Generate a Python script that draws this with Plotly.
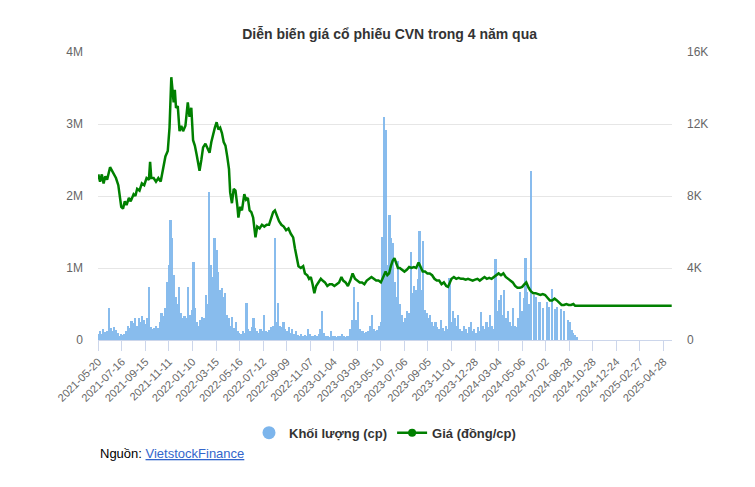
import plotly.graph_objects as go

# ---------------- data ----------------
tick_dates = ["2021-05-20", "2021-07-16", "2021-09-15", "2021-11-11", "2022-01-10",
              "2022-03-15", "2022-05-16", "2022-07-12", "2022-09-09", "2022-11-07",
              "2023-01-04", "2023-03-09", "2023-05-10", "2023-07-06", "2023-09-05",
              "2023-11-01", "2023-12-28", "2024-03-04", "2024-05-06", "2024-07-02",
              "2024-08-28", "2024-10-28", "2024-12-24", "2025-02-27", "2025-04-28"]
TICK_EVERY = 40        # trading sessions between date labels
N_SESSIONS = 975       # sessions shown on the axis
VOL_STEP = 3           # sessions per volume sample

# volume (thousand shares), one value per VOL_STEP sessions
volume_k = [
    90, 130, 80, 150, 110, 120, 450, 160, 120, 180,
    140, 100, 60, 90, 70, 80, 120, 200, 160, 260,
    230, 300, 200, 310, 250, 340, 280, 220, 300, 730,
    180, 150, 170, 200, 160, 250, 380, 330, 450, 810,
    1040, 1670, 1420, 900, 600, 500, 740, 380, 300, 330,
    300, 740, 350, 420, 1090, 450, 250, 200, 280, 320,
    300, 620, 500, 2060, 1040, 880, 1420, 1250, 950, 700,
    720, 600, 650, 350, 300, 200, 320, 170, 250, 130,
    100, 90, 120, 100, 510, 150, 130, 180, 300, 160,
    120, 100, 150, 130, 350, 120, 110, 140, 180, 200,
    1420, 250, 510, 200, 180, 250, 150, 120, 180, 100,
    150, 90, 120, 70, 60, 80, 50, 70, 60, 150,
    80, 60, 50, 70, 60, 90, 150, 400, 100, 60,
    50, 40, 120, 60, 50, 40, 60, 50, 80, 60,
    40, 50, 60, 150, 280, 740, 280, 530, 150, 120,
    120, 100, 110, 130, 200, 350, 150, 120, 140, 200,
    250, 1430, 3100, 2920, 1040, 1740, 1420, 1350, 800, 600,
    1100, 500, 350, 250, 300, 400, 380, 1220, 650, 750,
    700, 850, 1510, 700, 1370, 420, 380, 300, 350, 250,
    200, 250, 180, 150, 280, 160, 130, 200, 150, 860,
    250, 400, 300, 200, 350, 150, 120, 200, 150, 100,
    180, 250, 120, 150, 100, 180, 130, 390, 200, 150,
    250, 180, 350, 200, 150, 1120, 400, 550, 625, 350,
    700, 300, 400, 250, 200, 450, 200, 180, 300, 670,
    400, 580, 1140, 670, 500, 2350, 0, 625, 600, 0,
    530, 0, 450, 0, 530, 460, 0, 710, 0, 430,
    460, 0, 430, 0, 400, 0, 280, 250, 140, 100,
    70, 40,
]

# closing price (thousand VND) at given session numbers
price_session = [
    0, 3, 6, 9, 12, 15, 20, 25, 30, 34,
    37, 39, 42, 45, 48, 52, 55, 60, 63, 66,
    70, 74, 78, 82, 86, 88, 90, 94, 98, 102,
    106, 110, 114, 118, 121, 124, 126, 128, 130, 132,
    135, 138, 141, 144, 148, 152, 155, 158, 161, 164,
    167, 170, 172, 175, 178, 182, 186, 189, 192, 195,
    198, 201, 204, 207, 210, 213, 216, 219, 222, 224,
    227, 230, 233, 236, 238, 241, 244, 248, 251, 254,
    257, 260, 263, 267, 270, 274, 278, 282, 286, 290,
    294, 297, 300, 303, 307, 311, 315, 319, 323, 327,
    331, 334, 337, 340, 344, 348, 351, 355, 358, 361,
    364, 367, 370, 374, 378, 381, 385, 389, 393, 397,
    401, 405, 409, 413, 416, 420, 424, 428, 432, 436,
    440, 444, 448, 452, 456, 460, 464, 468, 472, 476,
    480, 484, 488, 491, 494, 497, 500, 503, 506, 509,
    512, 516, 520, 524, 528, 532, 536, 540, 544, 547,
    551, 555, 559, 563, 567, 571, 575, 579, 583, 587,
    591, 594, 597, 600, 604, 608, 612, 616, 620, 624,
    628, 632, 636, 640, 644, 648, 652, 656, 660, 664,
    668, 672, 676, 680, 684, 688, 692, 696, 700, 704,
    708, 712, 716, 720, 724, 727, 731, 735, 739, 743,
    747, 751, 755, 759, 763, 767, 771, 775, 779, 783,
    787, 791, 795, 799, 803, 807, 810, 974,
]
price_k = [
    9.2, 8.8, 9.2, 8.7, 9.1, 8.9, 9.6, 9.3, 9.0, 8.6,
    8.0, 7.4, 7.3, 7.7, 7.5, 7.9, 7.7, 8.1, 8.0, 8.4,
    8.3, 8.7, 8.6, 9.0, 8.9, 9.9, 9.0, 9.0, 8.8, 9.0,
    8.8, 9.6, 10.2, 10.5, 11.8, 14.6, 13.8, 13.2, 13.9, 12.9,
    13.0, 11.6, 11.9, 11.6, 11.9, 13.2, 12.4, 12.9, 11.1, 10.8,
    10.3, 9.8, 9.4, 10.0, 10.7, 10.9, 10.6, 10.4, 11.0, 11.5,
    11.8, 12.1, 11.7, 11.8, 11.5, 11.0, 10.8, 10.2, 9.5, 8.2,
    7.6, 8.4, 8.3, 7.5, 6.8, 7.4, 7.2, 8.1, 7.8, 7.9,
    7.2, 7.1, 6.8, 5.7, 6.3, 6.2, 6.4, 6.3, 6.4, 6.4,
    6.8, 7.1, 7.2, 6.9, 6.6, 6.4, 6.3, 6.1, 6.2, 5.9,
    5.7, 5.1, 4.5, 4.1, 4.0, 4.1, 3.7, 3.6, 3.4, 3.5,
    3.1, 2.6, 3.0, 3.2, 3.4, 3.3, 3.2, 3.0, 3.1, 3.1,
    3.0, 3.1, 3.2, 3.5, 3.3, 3.2, 3.0, 3.3, 3.7, 3.4,
    3.3, 3.2, 3.2, 3.1, 3.3, 3.4, 3.5, 3.4, 3.3, 3.3,
    3.2, 3.5, 3.8, 3.6, 3.7, 4.1, 4.4, 4.55, 4.3, 4.0,
    4.0, 3.9, 3.8, 3.9, 4.05, 4.0, 4.05, 4.0, 4.3, 4.1,
    3.8, 3.8, 3.7, 3.7, 3.6, 3.4, 3.3, 3.3, 3.1, 3.2,
    3.0, 2.95, 3.2, 3.4, 3.5, 3.4, 3.45, 3.4, 3.4, 3.35,
    3.4, 3.35, 3.3, 3.35, 3.4, 3.3, 3.4, 3.5, 3.4, 3.45,
    3.4, 3.5, 3.6, 3.7, 3.6, 3.7, 3.5, 3.4, 3.3, 3.2,
    3.0, 2.9, 2.9, 2.95, 3.1, 3.2, 2.9, 2.7, 2.6, 2.6,
    2.55, 2.5, 2.55, 2.5, 2.35, 2.2, 2.2, 2.3, 2.2, 2.1,
    1.95, 1.95, 2.0, 1.95, 1.95, 2.0, 1.9, 1.9,
]

vol_ticks = [0, 1, 2, 3, 4]            # millions
vol_tick_text = ["0", "1M", "2M", "3M", "4M"]
price_ticks = [0, 4, 8, 12, 16]        # thousands
price_tick_text = ["0", "4K", "8K", "12K", "16K"]

title = "Diễn biến giá cổ phiếu CVN trong 4 năm qua"
vol_name = "Khối lượng (cp)"
price_name = "Giá (đồng/cp)"

# ---------------- figure ----------------
FONT = "Liberation Sans, Arial, Helvetica, sans-serif"
VOL_COLOR = "#7cb5ec"
PRICE_COLOR = "#008000"

vol_x = [i * VOL_STEP for i in range(len(volume_k))]

fig = go.Figure()
fig.add_trace(go.Bar(
    x=vol_x, y=[v * 1000 for v in volume_k], width=VOL_STEP,
    marker=dict(color=VOL_COLOR, line=dict(width=0)),
    name=vol_name, showlegend=False, yaxis="y", opacity=0.9,
))
fig.add_trace(go.Scatter(
    x=price_session, y=[p * 1000 for p in price_k], mode="lines",
    line=dict(color=PRICE_COLOR, width=2.5),
    name=price_name, showlegend=False, yaxis="y2",
))
# legend entries (symbols as in the original legend)
fig.add_trace(go.Scatter(
    x=[None], y=[None], mode="markers", name="<b>" + vol_name + "</b>",
    marker=dict(symbol="circle", size=13, color=VOL_COLOR),
))
fig.add_trace(go.Scatter(
    x=[None], y=[None], mode="lines+markers", name="<b>" + price_name + "</b>", yaxis="y2",
    line=dict(color=PRICE_COLOR, width=2.5),
    marker=dict(symbol="circle", size=8, color=PRICE_COLOR),
))

fig.update_layout(
    width=755, height=487,
    margin=dict(l=98, r=83, t=52, b=147),
    paper_bgcolor="white", plot_bgcolor="white",
    font=dict(family=FONT, color="#333333"),
    title=dict(text="<b>" + title + "</b>", x=0.516, xref="container", xanchor="center",
               y=1 - 34 / 487, yref="container", yanchor="middle",
               font=dict(size=14, color="#333333", family=FONT)),
    bargap=0,
    showlegend=True,
    legend=dict(orientation="h", x=0.5, xanchor="center", y=-0.27, yanchor="top",
                font=dict(size=13, color="#333333", family=FONT),
                itemsizing="trace", traceorder="normal"),
    xaxis=dict(
        range=[-0.5, N_SESSIONS - 0.5],
        tickmode="array",
        tickvals=[i * TICK_EVERY for i in range(len(tick_dates))],
        ticktext=tick_dates,
        tickangle=-45,
        ticks="outside", ticklen=10, tickcolor="#ccd6eb", tickwidth=1,
        showline=True, linecolor="#ccd6eb", linewidth=1,
        showgrid=False, zeroline=False,
        tickfont=dict(size=11, color="#666666", family=FONT),
    ),
    yaxis=dict(
        range=[0, 4e6],
        tickmode="array",
        tickvals=[t * 1e6 for t in vol_ticks], ticktext=vol_tick_text,
        showgrid=True, gridcolor="#e6e6e6", gridwidth=1,
        zeroline=False, showline=False, ticks="",
        ticklabelstandoff=14,
        tickfont=dict(size=12, color="#666666", family=FONT),
    ),
    yaxis2=dict(
        range=[0, 16000], overlaying="y", side="right",
        tickmode="array",
        tickvals=[t * 1000 for t in price_ticks], ticktext=price_tick_text,
        showgrid=False, zeroline=False, showline=False, ticks="",
        ticklabelstandoff=14,
        tickfont=dict(size=12, color="#666666", family=FONT),
    ),
    annotations=[dict(
        text="Nguồn: <a href='https://finance.vietstock.vn/'><span style='color:#3366cc'><u>VietstockFinance</u></span></a>",
        xref="paper", yref="paper", x=0.0, y=(340 - 453) / 288,
        xanchor="left", yanchor="middle", showarrow=False,
        font=dict(size=13, color="#000000", family=FONT),
    )],
)

fig.write_html("out.html")
